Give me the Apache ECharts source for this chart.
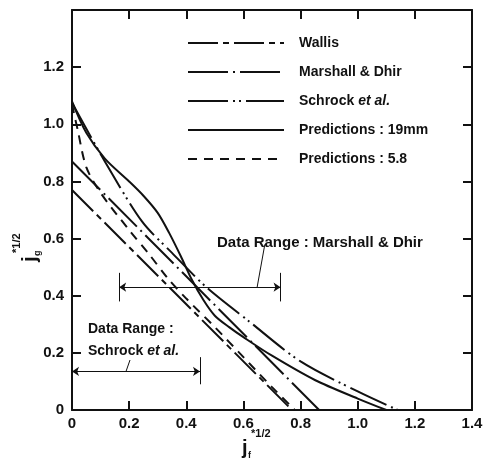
<!DOCTYPE html>
<html>
<head>
<meta charset="utf-8">
<script src="https://cdn.jsdelivr.net/npm/echarts@6/dist/echarts.min.js"></script>
<style>
  html, body { margin: 0; padding: 0; background: #fff; }
  #chart-container { width: 486px; height: 461px; }
</style>
</head>
<body>
<div id="chart-container"></div>
<script>
var dom = document.getElementById("chart-container");
var myChart = echarts.init(dom, null, { renderer: "canvas" });

// x = j_f*^1/2, y = j_g*^1/2
const wallis = [[0, 0.77], [0.77, 0]];
const marshallDhir = [[0, 0.87], [0.865, 0]];
const schrock = [
  [0, 1.075], [0.115, 0.87], [0.245, 0.66], [0.35, 0.55], [0.47, 0.43],
  [0.62, 0.31], [0.8, 0.17], [1.0, 0.065], [1.14, 0]
];
const pred19mm = [
  [0, 1.08], [0.05, 0.97], [0.115, 0.88], [0.2, 0.8], [0.25, 0.75],
  [0.3, 0.69], [0.34, 0.62], [0.38, 0.54], [0.42, 0.455], [0.46, 0.385],
  [0.5, 0.33], [0.55, 0.29], [0.6, 0.255], [0.7, 0.19], [0.85, 0.105],
  [1.0, 0.04], [1.1, 0]
];
const pred58 = [
  [0, 1.07], [0.02, 0.98], [0.05, 0.85], [0.1, 0.76], [0.2, 0.63],
  [0.27, 0.545], [0.336, 0.46], [0.4, 0.39], [0.5, 0.29], [0.6, 0.185],
  [0.7, 0.08], [0.78, 0]
];
const seriesNames = ["Wallis", "Marshall & Dhir", "Schrock et al.", "Predictions : 19mm", "Predictions : 5.8"];

// data range bars
const marshallRange = [0.165, 0.73];
const marshallRangeY = 0.43;
const schrockRange = [0, 0.448];
const schrockRangeY = 0.135;

const ink = "#111";
const font = "Liberation Sans";

function lineSeries(name, data, dash, smooth) {
  return {
    name: name,
    type: "line",
    data: data,
    symbol: "none",
    smooth: smooth ? 0.3 : false,
    lineStyle: { color: ink, width: 2, type: dash },
    itemStyle: { color: ink },
    silent: true,
    z: 3,
  };
}

function seg(a, b) {
  return [{ coord: a }, { coord: b }];
}

function frameAxis(pos, showLabel) {
  return {
    type: "value", position: pos, min: 0, max: 1.4, interval: 0.2,
    axisLine: { onZero: false, lineStyle: { color: ink, width: 2 } },
    axisTick: { inside: true, length: 9, lineStyle: { color: ink, width: 2 } },
    splitLine: { show: false },
    axisLabel: showLabel || { show: false },
  };
}

var option = {
  animation: false,
  backgroundColor: "#fff",
  grid: { left: 72, right: 14, top: 10, bottom: 51 },
  legend: {
    left: 182,
    top: 31,
    orient: "vertical",
    itemWidth: 96,
    itemHeight: 12,
    itemGap: 15,
    selectedMode: false,
    itemStyle: { opacity: 0 },
    formatter: function (name) {
      return name === "Schrock et al." ? "Schrock {i|et al.}" : name;
    },
    textStyle: {
      color: ink,
      fontFamily: font,
      fontWeight: "bold",
      fontSize: 14,
      padding: [0, 0, 0, 10],
      rich: { i: { fontStyle: "italic", fontWeight: "bold", fontSize: 14, fontFamily: font, color: ink } },
    },
    data: seriesNames,
  },
  xAxis: [
    frameAxis("bottom", {
      color: ink, fontFamily: font, fontWeight: "bold", fontSize: 15, margin: 6,
      formatter: function (v) { return v === 0 ? "0" : v.toFixed(1); },
    }),
    frameAxis("top"),
  ],
  yAxis: [
    frameAxis("left", {
      color: ink, fontFamily: font, fontWeight: "bold", fontSize: 15, margin: 8,
      formatter: function (v) {
        if (v > 1.3) return "";
        return v === 0 ? "0" : v.toFixed(1);
      },
    }),
    frameAxis("right"),
  ],
  series: [
    lineSeries(seriesNames[0], wallis, [30, 5, 6, 5], false),
    lineSeries(seriesNames[1], marshallDhir, [40, 5, 2, 5], false),
    lineSeries(seriesNames[2], schrock, [40, 5, 2, 4, 2, 5], true),
    lineSeries(seriesNames[3], pred19mm, "solid", true),
    lineSeries(seriesNames[4], pred58, [9, 7], true),
    {
      // data range markers
      type: "line",
      data: [],
      silent: true,
      markLine: {
        silent: true,
        animation: false,
        symbol: "none",
        label: { show: false },
        lineStyle: { color: ink, width: 1, type: "solid" },
        data: [
          seg([marshallRange[0], marshallRangeY - 0.05], [marshallRange[0], marshallRangeY + 0.05]),
          seg([marshallRange[1], marshallRangeY - 0.05], [marshallRange[1], marshallRangeY + 0.05]),
          seg([schrockRange[1], schrockRangeY - 0.045], [schrockRange[1], schrockRangeY + 0.05]),
          seg([0.648, marshallRangeY], [0.675, 0.58]),
          seg([0.189, schrockRangeY], [0.203, 0.175]),
        ],
      },
    },
    {
      type: "line",
      data: [],
      silent: true,
      markLine: {
        silent: true,
        animation: false,
        symbol: ["arrow", "arrow"],
        symbolSize: 7,
        label: { show: false },
        lineStyle: { color: ink, width: 1, type: "solid" },
        data: [
          seg([marshallRange[0], marshallRangeY], [marshallRange[1], marshallRangeY]),
          seg([schrockRange[0], schrockRangeY], [schrockRange[1], schrockRangeY]),
        ],
      },
    },
  ],
  graphic: [
    {
      type: "text", left: 217, top: 235,
      style: { text: "Data Range : Marshall & Dhir", fill: ink, font: "bold 15px " + font },
    },
    {
      type: "text", left: 88, top: 322,
      style: { text: "Data Range :", fill: ink, font: "bold 14px " + font },
    },
    {
      type: "text", left: 88, top: 344,
      style: {
        text: "Schrock {i|et al.}", fill: ink, font: "bold 14px " + font,
        rich: { i: { fontStyle: "italic", fontWeight: "bold", fontSize: 14, fontFamily: font } },
      },
    },
    // x axis title  j_f *1/2
    { type: "text", x: 242, y: 448, style: { text: "j", fill: ink, font: "bold 20px " + font, textVerticalAlign: "middle" } },
    { type: "text", x: 248, y: 456, style: { text: "f", fill: ink, font: "bold 9px " + font, textVerticalAlign: "middle" } },
    { type: "text", x: 251, y: 434, style: { text: "*1/2", fill: ink, font: "bold 11px " + font, textVerticalAlign: "middle" } },
    // y axis title  j_g *1/2, rotated
    {
      type: "group", x: 30, y: 262, rotation: Math.PI / 2,
      children: [
        { type: "text", x: 0, y: 0, style: { text: "j", fill: ink, font: "bold 20px " + font, textVerticalAlign: "middle" } },
        { type: "text", x: 6, y: 8, style: { text: "g", fill: ink, font: "bold 9px " + font, textVerticalAlign: "middle" } },
        { type: "text", x: 9, y: -13, style: { text: "*1/2", fill: ink, font: "bold 11px " + font, textVerticalAlign: "middle" } },
      ],
    },
  ],
};

myChart.setOption(option);
window.addEventListener("resize", myChart.resize);
</script>
</body>
</html>
